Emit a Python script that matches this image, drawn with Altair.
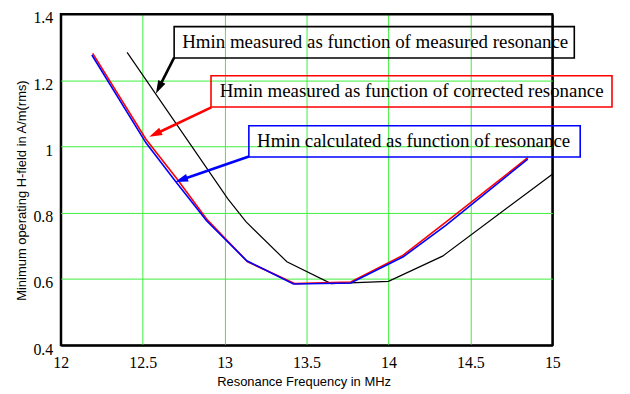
import math
import altair as alt
import pandas as pd

# ---------------- data ----------------
black_f = [12.405, 13.02, 13.13, 13.38, 13.65, 14.00, 14.33, 15.00]
black_h = [1.284, 0.842, 0.773, 0.652, 0.586, 0.593, 0.669, 0.916]

red_f = [12.195, 12.52, 12.71, 12.89, 13.14, 13.43, 13.77, 14.09, 14.35, 14.85]
red_h = [1.281, 1.022, 0.902, 0.781, 0.652, 0.586, 0.591, 0.672, 0.772, 0.966]

blue_f = [12.19, 12.52, 12.70, 12.89, 13.135, 13.42, 13.77, 14.09, 14.35, 14.85]
blue_h = [1.276, 1.011, 0.895, 0.776, 0.655, 0.585, 0.588, 0.667, 0.762, 0.962]

x_ticks = [12, 12.5, 13, 13.5, 14, 14.5, 15]
y_ticks = [0.4, 0.6, 0.8, 1.0, 1.2, 1.4]

ann_text = [
    "Hmin measured as function of measured resonance",
    "Hmin measured as function of corrected resonance",
    "Hmin calculated as function of resonance",
]
ann_color = ["#000000", "#ff0000", "#0000ff"]
# box extents (data units)
box_x1 = [12.692, 12.917, 13.148]
box_x2 = [15.134, 15.364, 15.170]
box_y1 = [1.3615, 1.2136, 1.0627]
box_y2 = [1.2669, 1.1189, 0.9680]
# text anchor (data units)
txt_x = [12.741, 12.970, 13.198]
txt_y = [1.3142, 1.1663, 1.0154]
# arrow start / tip (data units)
arr_x1 = [12.692, 12.919, 13.148]
arr_y1 = [1.268, 1.118, 0.970]
arr_x2 = [12.581, 12.540, 12.698]
arr_y2 = [1.160, 1.029, 0.893]

# ---------------- layout ----------------
W, H = 494, 333
PX_X = W / 3.0    # px per MHz
PX_Y = H / 1.0    # px per A/m

SERIF = "Liberation Serif"
SANS = "Liberation Sans"
GREEN = "#3cf03c"
xs = alt.Scale(domain=[12, 15], nice=False, zero=False)
ys = alt.Scale(domain=[0.4, 1.4], nice=False, zero=False)

x_edge = "datum.value <= 12.001 || datum.value >= 14.999"
y_edge = "datum.value <= 0.401 || datum.value >= 1.399"

x_axis = alt.Axis(values=x_ticks, format="~g", grid=True, ticks=False, domain=False,
                  gridColor=alt.condition(x_edge, alt.value("black"), alt.value(GREEN)),
                  gridWidth=alt.condition(x_edge, alt.value(2), alt.value(1)),
                  labelFont=SERIF, labelFontSize=16, labelColor="black",
                  labelPadding=9, title="Resonance Frequency in MHz",
                  titleFont=SANS, titleFontSize=13, titleFontWeight="normal",
                  titleColor="black", titleX=244, titleY=36, titleAlign="center",
                  titleBaseline="middle", labelFlush=False)
y_axis = alt.Axis(values=y_ticks, format="~g", grid=True, ticks=False, domain=False,
                  gridColor=alt.condition(y_edge, alt.value("black"), alt.value(GREEN)),
                  gridWidth=alt.condition(y_edge, alt.value(2), alt.value(1)),
                  labelFont=SERIF, labelFontSize=16, labelColor="black",
                  labelPadding=8, labelOffset=4, title="Minimum operating H-field in A/m(rms)",
                  titleFont=SANS, titleFontSize=13, titleFontWeight="normal",
                  titleColor="black", titleX=-39, titleY=177, titleAngle=270,
                  titleAlign="center", titleBaseline="middle", labelFlush=False)


def X(field):
    return alt.X(field, scale=xs, axis=x_axis, title="Resonance Frequency in MHz")


def Y(field):
    return alt.Y(field, scale=ys, axis=y_axis, title="Minimum operating H-field in A/m(rms)")


def line_layer(f, h, color, width):
    df = pd.DataFrame({"f": f, "h": h, "i": list(range(len(f)))})
    return alt.Chart(df).mark_line(color=color, strokeWidth=width).encode(
        x=X("f:Q"), y=Y("h:Q"), order="i:Q")


black = line_layer(black_f, black_h, "#000000", 1.2)
red = line_layer(red_f, red_h, "#ff0000", 1.6)
blue = line_layer(blue_f, blue_h, "#0000ff", 1.6)

ann = pd.DataFrame({
    "text": ann_text, "color": ann_color,
    "bx1": box_x1, "bx2": box_x2, "by1": box_y1, "by2": box_y2,
    "tx": txt_x, "ty": txt_y,
})

# arrows: shorten the shaft so it ends inside the head, compute head angle
head_len = 13.0
ax1, ay1, ax2, ay2, ang = [], [], [], [], []
for x1, y1, x2, y2 in zip(arr_x1, arr_y1, arr_x2, arr_y2):
    dxp = (x2 - x1) * PX_X
    dyp = -(y2 - y1) * PX_Y
    L = math.hypot(dxp, dyp)
    k = (L - head_len * 0.7) / L
    ax1.append(x1); ay1.append(y1)
    ax2.append(x1 + (x2 - x1) * k); ay2.append(y1 + (y2 - y1) * k)
    ang.append(math.degrees(math.atan2(dxp, -dyp)) % 360)
arr = pd.DataFrame({"x1": ax1, "y1": ay1, "x2": ax2, "y2": ay2,
                    "tx": arr_x2, "ty": arr_y2, "ang": ang, "color": ann_color})

color_enc = alt.Color("color:N", scale=None)

boxes = alt.Chart(ann).mark_rect(fillOpacity=0, strokeWidth=1.6).encode(
    x=X("bx1:Q"), x2="bx2:Q",
    y=Y("by1:Q"), y2="by2:Q",
    stroke=alt.Stroke("color:N", scale=None),
)
texts = alt.Chart(ann).mark_text(align="left", baseline="middle", font=SERIF,
                                 fontSize=19, color="black").encode(
    x=X("tx:Q"), y=Y("ty:Q"), text="text:N",
)
shafts = alt.Chart(arr).mark_rule(strokeWidth=2.6).encode(
    x=X("x1:Q"), x2="x2:Q",
    y=Y("y1:Q"), y2="y2:Q",
    color=color_enc,
)
heads = alt.Chart(arr).mark_point(
    shape="M0,0L0.62,2L-0.62,2Z", filled=True, opacity=1, size=head_len ** 2, strokeWidth=0
).encode(
    x=X("tx:Q"), y=Y("ty:Q"),
    angle=alt.Angle("ang:Q", scale=None),
    color=color_enc,
)

chart = alt.layer(black, red, blue, boxes, texts, shafts, heads).properties(
    width=W, height=H,
    autosize=alt.AutoSizeParams(type="none"),
    padding={"left": 53, "top": 5, "right": 70, "bottom": 46},
    background="white",
).configure_view(
    stroke="black", strokeWidth=2
).configure_axis(
    labelFont=SERIF, labelFontSize=16, labelColor="black",
    titleFont=SANS, titleFontSize=13, titleFontWeight="normal", titleColor="black",
)

chart.save("out.html", embed_options={"renderer": "svg", "actions": False})
